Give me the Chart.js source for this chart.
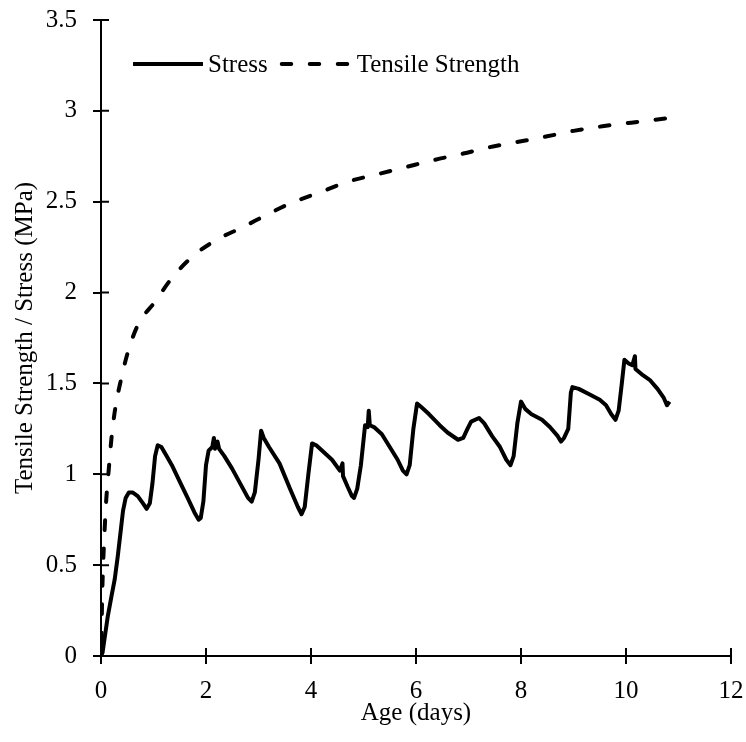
<!DOCTYPE html>
<html>
<head>
<meta charset="utf-8">
<title>Tensile Strength and Stress vs Age</title>
<script src="https://cdn.jsdelivr.net/npm/chart.js@4.4.1/dist/chart.umd.min.js"></script>
<style>
    html, body { margin: 0; padding: 0; background: #fff; }
    #chart { display: block; }
</style>
</head>
<body>
<canvas id="chart" width="746" height="742"></canvas>
<script>
// Measured stress history (age in days, stress in MPa)
const stressAge = [
    0, 0.03, 0.07, 0.13, 0.2, 0.26, 0.32, 0.38, 0.42, 0.47, 0.53, 0.6, 0.7, 0.8, 0.87, 0.93, 0.98, 1.03, 1.08,
    1.15, 1.25, 1.35, 1.5, 1.65, 1.78, 1.86, 1.9, 1.95, 2.0, 2.05, 2.12, 2.15, 2.17, 2.22, 2.25, 2.35, 2.5,
    2.65, 2.8, 2.87, 2.93, 3.0, 3.05, 3.1, 3.2, 3.4, 3.6, 3.75, 3.82, 3.88, 3.95, 4.02, 4.1, 4.25, 4.4, 4.55,
    4.6, 4.61, 4.7, 4.78, 4.82, 4.88, 4.95, 5.03, 5.08, 5.1, 5.12, 5.2, 5.35, 5.5, 5.65, 5.75, 5.82, 5.88,
    5.95, 6.02, 6.1, 6.25, 6.45, 6.6, 6.8, 6.9, 6.98, 7.05, 7.2, 7.3, 7.45, 7.6, 7.72, 7.8, 7.86, 7.93, 8.0,
    8.08, 8.2, 8.4, 8.55, 8.7, 8.76, 8.82, 8.9, 8.95, 8.98, 9.1, 9.3, 9.5, 9.62, 9.72, 9.8, 9.86, 9.92, 9.97,
    10.05, 10.12, 10.17, 10.18, 10.3, 10.45, 10.6, 10.72, 10.78, 10.83
];
const stressValues = [
    0, 0.02, 0.1, 0.22, 0.33, 0.42, 0.55, 0.7, 0.8, 0.87, 0.9, 0.9, 0.88, 0.84, 0.81, 0.84, 0.95, 1.1, 1.16,
    1.15, 1.1, 1.05, 0.96, 0.87, 0.79, 0.75, 0.76, 0.85, 1.05, 1.13, 1.15, 1.2, 1.14, 1.18, 1.14, 1.1, 1.03,
    0.95, 0.87, 0.85, 0.9, 1.08, 1.24, 1.2, 1.15, 1.06, 0.92, 0.82, 0.78, 0.82, 1.0, 1.17, 1.16, 1.12, 1.08, 1.02,
    1.06, 0.99, 0.93, 0.88, 0.87, 0.92, 1.05, 1.27, 1.26, 1.35, 1.27, 1.26, 1.22, 1.15, 1.08, 1.02, 1.0, 1.05,
    1.25, 1.39, 1.37, 1.33, 1.27, 1.23, 1.19, 1.2, 1.25, 1.29, 1.31, 1.28, 1.21, 1.15, 1.08, 1.05, 1.1, 1.28, 1.4,
    1.36, 1.33, 1.3, 1.26, 1.21, 1.18, 1.2, 1.25, 1.45, 1.48, 1.47, 1.44, 1.41, 1.38, 1.33, 1.3, 1.35, 1.5, 1.63,
    1.61, 1.6, 1.65, 1.58, 1.55, 1.52, 1.47, 1.42, 1.38, 1.4
];

// Tensile strength development (age in days, strength in MPa)
const strengthAge = [
    0, 0.01, 0.02, 0.04, 0.07, 0.1, 0.14, 0.2, 0.27, 0.38, 0.51, 0.7, 1.03, 1.35, 1.75, 2.2, 2.7, 3.17,
    3.6, 4.2, 4.7, 5.25, 5.8, 6.35, 6.9, 7.4, 7.95, 8.5, 9.0, 9.55, 10.1, 10.8
];
const strengthValues = [
    0, 0.12, 0.3, 0.5, 0.7, 0.86, 1.0, 1.2, 1.36, 1.52, 1.67, 1.82, 1.95, 2.08, 2.2, 2.29, 2.36, 2.43,
    2.49, 2.555, 2.61, 2.65, 2.69, 2.73, 2.765, 2.8, 2.83, 2.86, 2.89, 2.915, 2.935, 2.96
];

const seriesNames = ['Stress', 'Tensile Strength'];
const xTickValues = [0, 2, 4, 6, 8, 10, 12];
const yTickValues = [0, 0.5, 1, 1.5, 2, 2.5, 3, 3.5];

const FONT = 'Liberation Serif, Times New Roman, serif';

const toPoints = (xs, ys) => xs.map((x, i) => ({ x, y: ys[i] }));

// Ticks in Excel style cross the axis line; Chart.js only draws the outer half
const crossTicks = {
    id: 'crossTicks',
    afterDatasetsDraw(chart) {
        const { ctx, chartArea, scales } = chart;
        const len = 8;
        ctx.save();
        ctx.strokeStyle = '#000';
        ctx.lineWidth = 2;
        ctx.beginPath();
        scales.x.ticks.forEach(t => {
            const px = scales.x.getPixelForValue(t.value);
            ctx.moveTo(px, chartArea.bottom);
            ctx.lineTo(px, chartArea.bottom - len);
        });
        scales.y.ticks.forEach(t => {
            const py = scales.y.getPixelForValue(t.value);
            ctx.moveTo(chartArea.left, py);
            ctx.lineTo(chartArea.left + len, py);
        });
        ctx.stroke();
        ctx.restore();
    }
};

// Legend sits inside the plot area in one row
const insideLegend = {
    id: 'insideLegend',
    afterDraw(chart) {
        const { ctx } = chart;
        const y = 64;
        const sampleLen = 70;
        let x = 133;
        ctx.save();
        ctx.font = '25px ' + FONT;
        ctx.textBaseline = 'middle';
        ctx.fillStyle = '#000';
        chart.data.datasets.forEach(ds => {
            ctx.beginPath();
            ctx.strokeStyle = ds.borderColor;
            ctx.lineWidth = ds.borderWidth;
            ctx.lineCap = ds.borderCapStyle || 'butt';
            ctx.setLineDash(ds.borderDash || []);
            ctx.moveTo(x, y);
            ctx.lineTo(x + sampleLen, y);
            ctx.stroke();
            ctx.setLineDash([]);
            x += sampleLen + 5;
            ctx.fillText(ds.label, x, y + 1);
            x += ctx.measureText(ds.label).width + 14;
        });
        ctx.restore();
    }
};

new Chart(document.getElementById('chart'), {
    type: 'scatter',
    data: {
        datasets: [
            {
                label: seriesNames[0],
                data: toPoints(stressAge, stressValues),
                showLine: true,
                borderColor: '#000',
                borderWidth: 4,
                borderJoinStyle: 'round',
                pointRadius: 0,
                tension: 0
            },
            {
                label: seriesNames[1],
                data: toPoints(strengthAge, strengthValues),
                showLine: true,
                borderColor: '#000',
                borderWidth: 4,
                borderDash: [9.5, 18.5],
                borderDashOffset: 14,
                borderCapStyle: 'round',
                pointRadius: 0,
                cubicInterpolationMode: 'monotone'
            }
        ]
    },
    options: {
        responsive: false,
        animation: false,
        layout: { padding: { top: 20, right: 15, left: 0, bottom: 0 } },
        plugins: {
            legend: { display: false },
            tooltip: { enabled: false }
        },
        scales: {
            x: {
                type: 'linear',
                min: 0,
                max: 12,
                afterBuildTicks: scale => { scale.ticks = xTickValues.map(v => ({ value: v })); },
                afterFit: scale => {
                    scale.height = 86;
                    // the layout padding already leaves room for the end labels
                    scale.paddingLeft = 0;
                    scale.paddingRight = 0;
                },
                border: { display: true, color: '#000', width: 2 },
                grid: { drawOnChartArea: false, drawTicks: true, tickLength: 8, color: '#000', lineWidth: 2 },
                ticks: {
                    color: '#000',
                    padding: 12,
                    maxRotation: 0,
                    font: { family: FONT, size: 25 },
                    callback: v => String(v)
                },
                title: {
                    display: true,
                    text: 'Age (days)',
                    color: '#000',
                    font: { family: FONT, size: 25 },
                    padding: { top: 0, bottom: 14 }
                }
            },
            y: {
                type: 'linear',
                min: 0,
                max: 3.5,
                afterBuildTicks: scale => { scale.ticks = yTickValues.map(v => ({ value: v })); },
                afterFit: scale => {
                    scale.width = 101;
                    scale.paddingTop = 0;
                    scale.paddingBottom = 0;
                },
                border: { display: true, color: '#000', width: 2 },
                grid: { drawOnChartArea: false, drawTicks: true, tickLength: 8, color: '#000', lineWidth: 2 },
                ticks: {
                    color: '#000',
                    padding: 16,
                    font: { family: FONT, size: 25 },
                    callback: v => String(v)
                },
                title: {
                    display: true,
                    text: 'Tensile Strength / Stress (MPa)',
                    color: '#000',
                    font: { family: FONT, size: 25 },
                    padding: { top: 10, bottom: 0 }
                }
            }
        }
    },
    plugins: [crossTicks, insideLegend]
});
</script>
</body>
</html>
